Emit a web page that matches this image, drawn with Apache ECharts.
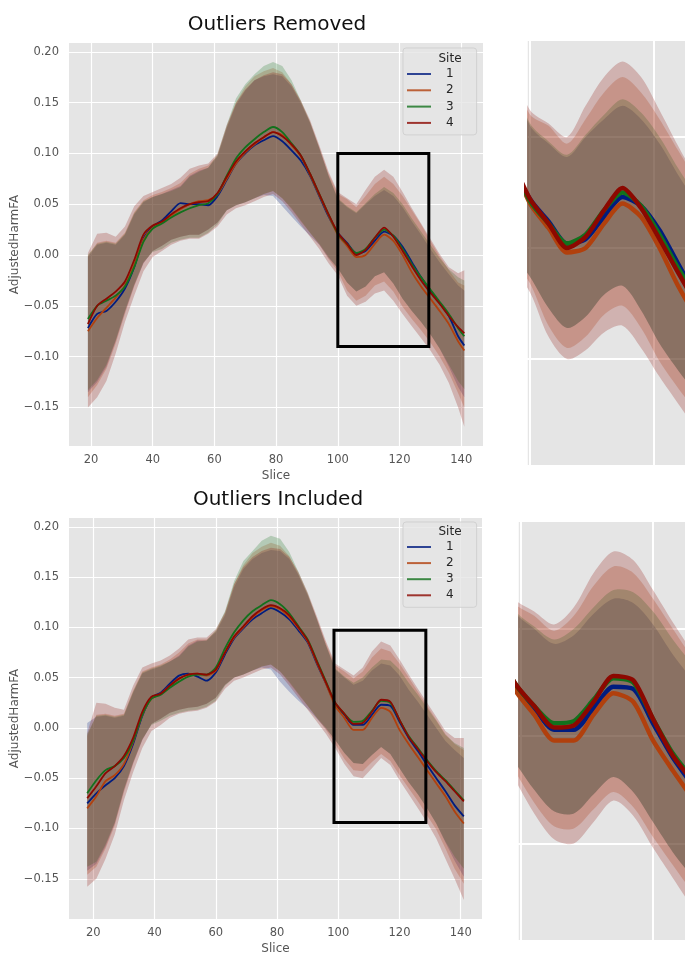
<!DOCTYPE html>
<html>
<head>
<meta charset="utf-8">
<script src="https://cdn.jsdelivr.net/npm/echarts@6/dist/echarts.min.js"></script>
<style>
html, body { margin: 0; padding: 0; background: #fff; }
#chart { width: 685px; height: 955px; }
</style>
</head>
<body>
<div id="chart"></div>
<script>
// sites and seaborn "dark" colours
var SITES = ['1', '2', '3', '4'];
var PALETTE = ['#001c7f', '#b1400d', '#12711c', '#8c0800'];

// ---- Outliers Removed (top) ----
var T_X = [19,22,25,28,31,34,37,40,43,46,49,52,55,58,61,64,67,70,73,76,79,82,85,88,91,94,97,100,103,106,109,112,115,118,121,124,127,130,133,136,139,141];
var T_M1 = [-0.072,-0.058,-0.055,-0.046,-0.033,-0.012,0.016,0.028,0.034,0.043,0.051,0.050,0.050,0.049,0.058,0.074,0.090,0.100,0.108,0.113,0.117,0.112,0.103,0.093,0.078,0.058,0.038,0.022,0.012,0.002,0.004,0.014,0.023,0.019,0.008,-0.007,-0.022,-0.035,-0.047,-0.060,-0.080,-0.089];
var T_M2 = [-0.075,-0.062,-0.052,-0.042,-0.030,-0.010,0.015,0.027,0.032,0.039,0.045,0.050,0.053,0.054,0.060,0.075,0.090,0.101,0.109,0.116,0.121,0.118,0.108,0.097,0.079,0.059,0.039,0.020,0.009,-0.002,0.000,0.011,0.020,0.014,0.000,-0.017,-0.031,-0.043,-0.055,-0.068,-0.085,-0.094];
var T_M3 = [-0.063,-0.050,-0.045,-0.040,-0.031,-0.012,0.013,0.026,0.031,0.037,0.042,0.046,0.049,0.051,0.060,0.078,0.095,0.106,0.114,0.121,0.126,0.121,0.110,0.098,0.080,0.060,0.040,0.021,0.011,0.002,0.006,0.017,0.025,0.019,0.006,-0.009,-0.022,-0.034,-0.046,-0.058,-0.072,-0.080];
var T_M4 = [-0.068,-0.050,-0.043,-0.036,-0.026,-0.005,0.020,0.029,0.033,0.040,0.046,0.050,0.052,0.053,0.061,0.077,0.092,0.102,0.110,0.116,0.121,0.117,0.109,0.098,0.080,0.060,0.040,0.022,0.011,0.000,0.005,0.017,0.027,0.018,0.004,-0.011,-0.025,-0.037,-0.048,-0.060,-0.071,-0.077];
var T_HI1 = [-0.002,0.010,0.012,0.010,0.020,0.040,0.052,0.057,0.060,0.064,0.068,0.078,0.083,0.086,0.097,0.125,0.148,0.162,0.172,0.176,0.178,0.176,0.166,0.150,0.130,0.105,0.078,0.055,0.047,0.041,0.050,0.058,0.064,0.058,0.047,0.033,0.020,0.006,-0.007,-0.019,-0.030,-0.035];
var T_HI2 = [-0.001,0.012,0.014,0.012,0.022,0.042,0.054,0.059,0.062,0.066,0.071,0.080,0.085,0.088,0.098,0.126,0.150,0.166,0.176,0.181,0.184,0.180,0.168,0.151,0.131,0.106,0.080,0.060,0.055,0.047,0.058,0.070,0.077,0.070,0.058,0.044,0.030,0.014,-0.001,-0.015,-0.027,-0.030];
var T_HI3 = [0.000,0.011,0.013,0.011,0.021,0.041,0.053,0.057,0.060,0.063,0.067,0.077,0.082,0.086,0.099,0.128,0.154,0.168,0.178,0.186,0.190,0.186,0.172,0.152,0.131,0.105,0.078,0.056,0.048,0.042,0.051,0.060,0.067,0.061,0.050,0.036,0.023,0.010,-0.003,-0.014,-0.022,-0.025];
var T_HI4 = [0.002,0.021,0.022,0.018,0.028,0.048,0.058,0.062,0.066,0.070,0.076,0.085,0.088,0.090,0.100,0.128,0.150,0.163,0.172,0.177,0.180,0.178,0.168,0.152,0.133,0.108,0.082,0.062,0.056,0.050,0.064,0.077,0.084,0.077,0.062,0.046,0.031,0.016,0.001,-0.012,-0.018,-0.015];
var T_LO1 = [-0.135,-0.125,-0.110,-0.085,-0.056,-0.030,-0.008,0.004,0.009,0.015,0.018,0.020,0.020,0.025,0.032,0.044,0.049,0.052,0.056,0.059,0.058,0.048,0.038,0.028,0.019,0.010,-0.003,-0.013,-0.027,-0.036,-0.031,-0.021,-0.017,-0.028,-0.043,-0.055,-0.066,-0.078,-0.092,-0.110,-0.130,-0.140];
var T_LO2 = [-0.140,-0.128,-0.112,-0.087,-0.058,-0.031,-0.008,0.004,0.009,0.015,0.018,0.020,0.020,0.025,0.032,0.044,0.049,0.052,0.056,0.060,0.063,0.056,0.045,0.033,0.022,0.010,-0.004,-0.016,-0.035,-0.045,-0.040,-0.030,-0.026,-0.036,-0.051,-0.063,-0.074,-0.086,-0.100,-0.116,-0.136,-0.150];
var T_LO3 = [-0.133,-0.123,-0.108,-0.084,-0.055,-0.029,-0.007,0.003,0.006,0.012,0.015,0.017,0.017,0.022,0.030,0.044,0.049,0.052,0.056,0.060,0.063,0.056,0.046,0.034,0.022,0.011,-0.002,-0.013,-0.027,-0.036,-0.031,-0.021,-0.017,-0.028,-0.043,-0.055,-0.066,-0.078,-0.092,-0.108,-0.124,-0.132];
var T_LO4 = [-0.150,-0.140,-0.124,-0.097,-0.066,-0.040,-0.016,-0.002,0.004,0.010,0.014,0.016,0.016,0.021,0.028,0.040,0.046,0.049,0.053,0.057,0.060,0.053,0.042,0.030,0.018,0.006,-0.008,-0.020,-0.040,-0.050,-0.046,-0.038,-0.035,-0.045,-0.058,-0.070,-0.082,-0.094,-0.108,-0.126,-0.150,-0.169];
var RECT_T = [100, 129.5, -0.09, 0.10]; // x0, x1, y0, y1

// ---- Outliers Included (bottom) ----
var B_X = [18,21,24,27,30,33,36,39,42,45,48,51,54,57,60,63,66,69,72,75,78,81,84,87,90,93,96,99,102,105,108,111,114,117,120,123,126,129,132,135,138,141];
var B_M1 = [-0.075,-0.065,-0.057,-0.050,-0.038,-0.016,0.012,0.030,0.035,0.044,0.052,0.054,0.051,0.047,0.055,0.073,0.089,0.099,0.108,0.114,0.119,0.115,0.108,0.097,0.085,0.064,0.044,0.024,0.013,0.003,0.003,0.013,0.023,0.022,0.006,-0.010,-0.023,-0.037,-0.050,-0.063,-0.077,-0.088];
var B_M2 = [-0.080,-0.068,-0.053,-0.047,-0.036,-0.014,0.013,0.029,0.034,0.042,0.049,0.053,0.054,0.052,0.057,0.075,0.090,0.100,0.110,0.117,0.121,0.118,0.110,0.099,0.086,0.065,0.044,0.022,0.010,-0.002,-0.002,0.010,0.020,0.016,-0.002,-0.016,-0.029,-0.042,-0.055,-0.068,-0.083,-0.095];
var B_M3 = [-0.065,-0.052,-0.042,-0.038,-0.030,-0.013,0.013,0.029,0.033,0.040,0.046,0.051,0.053,0.053,0.060,0.079,0.095,0.107,0.116,0.122,0.127,0.123,0.114,0.101,0.088,0.067,0.046,0.025,0.014,0.006,0.007,0.017,0.027,0.025,0.008,-0.008,-0.020,-0.032,-0.043,-0.052,-0.062,-0.072];
var B_M4 = [-0.070,-0.058,-0.045,-0.038,-0.028,-0.010,0.016,0.031,0.034,0.042,0.049,0.053,0.054,0.053,0.058,0.075,0.091,0.101,0.111,0.118,0.122,0.119,0.112,0.100,0.087,0.066,0.045,0.025,0.014,0.004,0.005,0.016,0.028,0.026,0.008,-0.009,-0.021,-0.033,-0.044,-0.053,-0.063,-0.073];
var B_HI1 = [0.005,0.011,0.012,0.010,0.012,0.035,0.054,0.058,0.061,0.066,0.072,0.082,0.087,0.087,0.095,0.112,0.140,0.158,0.168,0.174,0.177,0.176,0.168,0.152,0.132,0.108,0.082,0.058,0.050,0.043,0.047,0.057,0.064,0.062,0.052,0.038,0.026,0.013,0.000,-0.013,-0.022,-0.030];
var B_HI2 = [-0.008,0.013,0.014,0.012,0.014,0.037,0.056,0.060,0.063,0.068,0.075,0.084,0.088,0.088,0.096,0.114,0.143,0.162,0.174,0.180,0.184,0.181,0.171,0.153,0.133,0.109,0.084,0.062,0.056,0.049,0.056,0.070,0.079,0.076,0.064,0.050,0.036,0.022,0.008,-0.006,-0.016,-0.022];
var B_HI3 = [-0.006,0.012,0.013,0.011,0.013,0.036,0.055,0.059,0.062,0.066,0.071,0.081,0.086,0.087,0.097,0.116,0.146,0.166,0.176,0.186,0.191,0.188,0.175,0.155,0.134,0.108,0.082,0.059,0.051,0.045,0.050,0.060,0.068,0.067,0.058,0.045,0.033,0.020,0.007,-0.007,-0.015,-0.020];
var B_HI4 = [-0.005,0.025,0.024,0.020,0.018,0.042,0.060,0.064,0.067,0.072,0.079,0.088,0.090,0.090,0.098,0.115,0.143,0.160,0.170,0.176,0.179,0.178,0.170,0.155,0.135,0.111,0.086,0.064,0.058,0.052,0.060,0.076,0.086,0.082,0.068,0.053,0.039,0.025,0.011,-0.003,-0.010,-0.010];
var B_LO1 = [-0.142,-0.135,-0.118,-0.095,-0.062,-0.035,-0.012,0.004,0.009,0.015,0.018,0.020,0.021,0.024,0.030,0.043,0.050,0.053,0.057,0.060,0.058,0.046,0.036,0.027,0.019,0.009,-0.001,-0.012,-0.025,-0.035,-0.036,-0.027,-0.019,-0.026,-0.040,-0.054,-0.066,-0.080,-0.095,-0.114,-0.132,-0.148];
var B_LO2 = [-0.146,-0.138,-0.120,-0.097,-0.064,-0.036,-0.012,0.004,0.009,0.015,0.018,0.020,0.021,0.024,0.030,0.043,0.050,0.053,0.057,0.061,0.063,0.056,0.045,0.033,0.022,0.010,-0.002,-0.016,-0.031,-0.042,-0.043,-0.034,-0.026,-0.033,-0.047,-0.060,-0.073,-0.087,-0.101,-0.120,-0.140,-0.155];
var B_LO3 = [-0.138,-0.133,-0.116,-0.094,-0.061,-0.034,-0.011,0.003,0.007,0.012,0.015,0.017,0.018,0.021,0.027,0.042,0.050,0.053,0.057,0.061,0.063,0.056,0.046,0.034,0.022,0.010,0.000,-0.012,-0.025,-0.035,-0.036,-0.027,-0.019,-0.026,-0.040,-0.054,-0.066,-0.080,-0.095,-0.113,-0.128,-0.140];
var B_LO4 = [-0.158,-0.150,-0.130,-0.106,-0.072,-0.044,-0.020,-0.003,0.003,0.010,0.014,0.016,0.017,0.020,0.026,0.039,0.047,0.050,0.054,0.058,0.060,0.053,0.042,0.030,0.018,0.006,-0.006,-0.020,-0.036,-0.048,-0.050,-0.040,-0.030,-0.037,-0.052,-0.066,-0.080,-0.094,-0.110,-0.130,-0.150,-0.171];
var RECT_B = [98.6, 128.6, -0.094, 0.097];

var TOP = { x: T_X, m: [T_M1, T_M2, T_M3, T_M4], lo: [T_LO1, T_LO2, T_LO3, T_LO4], hi: [T_HI1, T_HI2, T_HI3, T_HI4] };
var BOT = { x: B_X, m: [B_M1, B_M2, B_M3, B_M4], lo: [B_LO1, B_LO2, B_LO3, B_LO4], hi: [B_HI1, B_HI2, B_HI3, B_HI4] };

var FONT = 'DejaVu Sans';
var GREY = '#555555';

function yFmt(v) {
    if (Math.abs(v) < 1e-9) return '0.00';
    return (v < 0 ? '\u2212' : '') + Math.abs(v).toFixed(2);
}

// error band as a polygon through the axis scale
function bandSeries(xs, lo, hi, color, ai, smooth) {
    return {
        type: 'custom', name: 'band', xAxisIndex: ai, yAxisIndex: ai,
        clip: true, silent: true, z: 2,
        data: [[xs[0], lo[0]]],
        renderItem: function (params, api) {
            var pts = [];
            for (var i = 0; i < xs.length; i++) pts.push(api.coord([xs[i], hi[i]]));
            for (var j = xs.length - 1; j >= 0; j--) pts.push(api.coord([xs[j], lo[j]]));
            var cs = params.coordSys;
            return {
                type: 'polygon',
                shape: { points: pts, smooth: smooth },
                style: { fill: color, opacity: 0.23 },
                clipPath: { type: 'rect', shape: { x: cs.x, y: cs.y, width: cs.width, height: cs.height } }
            };
        }
    };
}

function rectSeries(r, ai) {
    return {
        type: 'custom', name: 'rect', xAxisIndex: ai, yAxisIndex: ai, silent: true, z: 5,
        data: [[r[0], r[2]]],
        renderItem: function (params, api) {
            var p1 = api.coord([r[0], r[3]]);
            var p2 = api.coord([r[1], r[2]]);
            return {
                type: 'rect',
                shape: { x: p1[0], y: p1[1], width: p2[0] - p1[0], height: p2[1] - p1[1] },
                style: { fill: 'none', stroke: '#000', lineWidth: 3 }
            };
        }
    };
}

function panelSeries(d, ai, lw, smooth) {
    var out = [];
    for (var s = 0; s < 4; s++) {
        var pts = [];
        for (var i = 0; i < d.x.length; i++) pts.push([d.x[i], d.m[s][i]]);
        out.push({
            type: 'line', name: SITES[s], xAxisIndex: ai, yAxisIndex: ai,
            data: pts, symbol: 'none', smooth: 0.25, silent: true, z: 2,
            lineStyle: { width: lw, color: PALETTE[s] },
            itemStyle: { color: PALETTE[s] }
        });
        out.push(bandSeries(d.x, d.lo[s], d.hi[s], PALETTE[s], ai, smooth));
    }
    return out;
}

function mainX(gi, min, max) {
    return {
        type: 'value', gridIndex: gi, min: min, max: max, minInterval: 20, maxInterval: 20,
        name: 'Slice', nameLocation: 'middle', nameGap: 24, nameMoveOverlap: false,
        nameTextStyle: { fontSize: 12, color: GREY, fontFamily: FONT },
        axisLine: { show: false }, axisTick: { show: false },
        axisLabel: { fontSize: 11.5, color: GREY, margin: 8, fontFamily: FONT, showMinLabel: false, showMaxLabel: false },
        splitLine: { show: true, showMinLine: false, showMaxLine: false, lineStyle: { color: '#ffffff', width: 1.2 } }
    };
}
function mainY(gi, min, max) {
    return {
        type: 'value', gridIndex: gi, min: min, max: max, minInterval: 0.05, maxInterval: 0.05,
        name: 'AdjustedHarmFA', nameLocation: 'middle', nameGap: 48, nameMoveOverlap: false,
        nameTextStyle: { fontSize: 12, color: GREY, fontFamily: FONT },
        axisLine: { show: false }, axisTick: { show: false },
        axisLabel: { fontSize: 11.5, color: GREY, margin: 10, fontFamily: FONT, formatter: yFmt, showMinLabel: false, showMaxLabel: false },
        splitLine: { show: true, showMinLine: false, showMaxLine: false, lineStyle: { color: '#ffffff', width: 1.2 } }
    };
}
function insetX(gi, min, max) {
    return {
        type: 'value', gridIndex: gi, min: min, max: max, minInterval: 20, maxInterval: 20,
        axisLine: { show: false }, axisTick: { show: false }, axisLabel: { show: false },
        splitLine: { show: true, showMinLine: false, showMaxLine: false, lineStyle: { color: '#ffffff', width: 2 } }
    };
}
function insetY(gi, min, max) {
    return {
        type: 'value', gridIndex: gi, min: min, max: max, minInterval: 0.05, maxInterval: 0.05,
        axisLine: { show: true, lineStyle: { color: '#ffffff', width: 1.5 } },
        axisTick: { show: false }, axisLabel: { show: false },
        splitLine: { show: true, showMinLine: false, showMaxLine: false, lineStyle: { color: '#ffffff', width: 2 } }
    };
}

function legendAt(top, padTop, gap) {
    return {
        orient: 'vertical', left: 403, top: top, data: SITES, selectedMode: false,
        icon: 'rect', itemWidth: 24, itemHeight: 2, itemGap: gap,
        itemStyle: { opacity: 0.8 },
        padding: [padTop, 23, 4, 4],
        backgroundColor: 'rgba(229,229,229,0.8)', borderColor: 'rgba(204,204,204,0.8)',
        borderWidth: 1, borderRadius: 3,
        textStyle: { fontSize: 12, lineHeight: 16, color: '#262626', fontFamily: FONT, padding: [0, 0, 0, 10] }
    };
}

function gridAt(left, top, width, height) {
    return { left: left, top: top, width: width, height: height, outerBoundsMode: 'none',
             show: true, backgroundColor: '#E5E5E5', borderWidth: 0 };
}

var series = []
    .concat(panelSeries(TOP, 0, 1.8, 0))
    .concat([rectSeries(RECT_T, 0)])
    .concat(panelSeries(BOT, 2, 1.8, 0))
    .concat([rectSeries(RECT_B, 2)])
    .concat(panelSeries(TOP, 1, 4.5, 0.3))
    .concat(panelSeries(BOT, 3, 4.5, 0.3));

var chart = echarts.init(document.getElementById('chart'), null, { renderer: 'canvas' });
chart.setOption({
    animation: false,
    backgroundColor: '#ffffff',
    textStyle: { fontFamily: FONT },
    title: [
        { text: 'Outliers Removed', left: 277, top: 15, textAlign: 'center', padding: 0,
          textStyle: { fontSize: 20, fontWeight: 'normal', color: '#111', fontFamily: FONT } },
        { text: 'Outliers Included', left: 278, top: 490, textAlign: 'center', padding: 0,
          textStyle: { fontSize: 20, fontWeight: 'normal', color: '#111', fontFamily: FONT } }
    ],
    legend: [legendAt(48, 18, 0.3), legendAt(522, 17, 0.1)],
    graphic: [
        { type: 'text', x: 450, y: 59, z: 20, style: { text: 'Site', align: 'center', verticalAlign: 'middle', font: '12px "DejaVu Sans"', fill: '#262626' } },
        { type: 'text', x: 450, y: 532, z: 20, style: { text: 'Site', align: 'center', verticalAlign: 'middle', font: '12px "DejaVu Sans"', fill: '#262626' } }
    ],
    grid: [
        gridAt(69, 43, 414, 403),
        gridAt(527, 41, 188, 424),
        gridAt(69, 518, 413, 401),
        gridAt(518, 522, 201, 418)
    ],
    xAxis: [
        mainX(0, 12.87, 147.06),
        insetX(1, 99.5, 130),
        mainX(2, 12.06, 146.94),
        insetX(3, 99.54, 130)
    ],
    yAxis: [
        mainY(0, -0.188, 0.2087),
        insetY(1, -0.0977, 0.0932),
        mainY(2, -0.19, 0.2087),
        insetY(3, -0.0949, 0.0997)
    ],
    series: series
});
</script>
</body>
</html>
